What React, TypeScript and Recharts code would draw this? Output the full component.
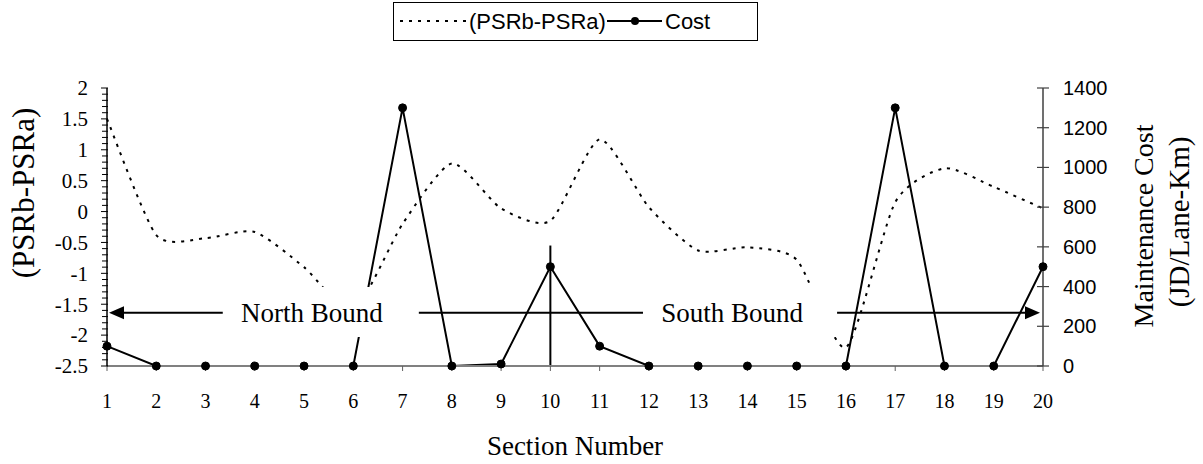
import React from 'react';
import {
  ComposedChart,
  Line,
  XAxis,
  YAxis,
  ReferenceArea,
  ReferenceLine,
  ReferenceDot,
} from 'recharts';

// ---- data ----
const sections = [1, 2, 3, 4, 5, 6, 7, 8, 9, 10, 11, 12, 13, 14, 15, 16, 17, 18, 19, 20];
const psrDiff = [1.5, -0.38, -0.43, -0.33, -0.9, -1.6, -0.2, 0.78, 0.05, -0.15, 1.17, 0.07, -0.63, -0.58, -0.78, -2.2, 0.15, 0.7, 0.4, 0.05];
const cost = [100, 0, 0, 0, 0, 0, 1300, 0, 10, 500, 100, 0, 0, 0, 0, 0, 1300, 0, 0, 500];

const leftMajorTicks = [-2.5, -2, -1.5, -1, -0.5, 0, 0.5, 1, 1.5, 2];
const rightTicks = [0, 200, 400, 600, 800, 1000, 1200, 1400];
const seriesNames = ['(PSRb-PSRa)', 'Cost'];
const directionLabels = ['North Bound', 'South Bound'];
const xTitle = 'Section Number';
const leftTitle = '(PSRb-PSRa)';
const rightTitleLines = ['Maintenance Cost', '(JD/Lane-Km)'];

// minor ticks every 0.1 on the left axis
const leftAllTicks: number[] = [];
for (let i = -25; i <= 20; i++) leftAllTicks.push(i / 10);

const data = sections.map((s, i) => ({ section: s, psr: psrDiff[i], cost: cost[i] }));

const SERIF = '"Liberation Serif", "Times New Roman", serif';
const SANS = '"Liberation Sans", Arial, sans-serif';

const LEFT_TICK_SIZE = 6;
const LEFT_TICK_MARGIN = 13;
const RIGHT_TICK_SIZE = 6;
const RIGHT_TICK_MARGIN = 14;
const SMOOTH_K = 0.11;

// smoothed line (cardinal spline)
function smoothCurve(context: any) {
  let pts: [number, number][] = [];
  return {
    areaStart() {},
    areaEnd() {},
    lineStart() {
      pts = [];
    },
    lineEnd() {
      const n = pts.length;
      if (n === 0) return;
      context.moveTo(pts[0][0], pts[0][1]);
      for (let i = 0; i < n - 1; i++) {
        const p0 = pts[i - 1] || pts[i];
        const p1 = pts[i];
        const p2 = pts[i + 1];
        const p3 = pts[i + 2] || pts[i + 1];
        context.bezierCurveTo(
          p1[0] + (p2[0] - p0[0]) * SMOOTH_K,
          p1[1] + (p2[1] - p0[1]) * SMOOTH_K,
          p2[0] - (p3[0] - p1[0]) * SMOOTH_K,
          p2[1] - (p3[1] - p1[1]) * SMOOTH_K,
          p2[0],
          p2[1]
        );
      }
    },
    point(x: number, y: number) {
      pts.push([+x, +y]);
    },
  };
}

const LeftTick = (props: any) => {
  const { x, y, payload } = props;
  const v = Math.round(payload.value * 10) / 10;
  const axisX = x + LEFT_TICK_SIZE + LEFT_TICK_MARGIN;
  const major = leftMajorTicks.includes(v);
  return (
    <g>
      <line x1={axisX - (major ? 6 : 5)} x2={axisX + 1} y1={y} y2={y} stroke="#000" strokeWidth={1} />
      {major && (
        <text x={x} y={y} dy="0.35em" textAnchor="end" fontFamily={SERIF} fontSize={21} fill="#000">
          {String(v)}
        </text>
      )}
    </g>
  );
};

const RightTick = (props: any) => {
  const { x, y, payload } = props;
  const axisX = x - RIGHT_TICK_SIZE - RIGHT_TICK_MARGIN;
  return (
    <g>
      <line x1={axisX - 6} x2={axisX + 6} y1={y} y2={y} stroke="#404040" strokeWidth={1.2} />
      <text x={x} y={y} dy="0.35em" textAnchor="start" fontFamily={SANS} fontSize={20} fill="#000">
        {String(payload.value)}
      </text>
    </g>
  );
};

const ArrowShape = (p: any) => {
  const { x1, y1, x2 } = p;
  const y = y1;
  const l = Math.min(x1, x2) + 2;
  const r = Math.max(x1, x2) - 3;
  return (
    <g>
      <line x1={l + 10} y1={y} x2={r - 10} y2={y} stroke="#000" strokeWidth={2} />
      <polygon points={`${l},${y} ${l + 15},${y - 6.5} ${l + 15},${y + 6.5}`} fill="#000" />
      <polygon points={`${r},${y} ${r - 15},${y - 6.5} ${r - 15},${y + 6.5}`} fill="#000" />
    </g>
  );
};

const labelStyle = { fontFamily: SERIF, fontSize: 27, fill: '#000' };

export default function App() {
  return (
    <div style={{ position: 'absolute', left: 0, top: 0, width: 1203, height: 464, background: '#fff' }}>
      <ComposedChart
        width={1203}
        height={464}
        data={data}
        margin={{ top: 88, right: 100, bottom: 58, left: 27 }}
      >
        <XAxis
          dataKey="section"
          type="number"
          domain={[1, 20]}
          ticks={sections}
          interval={0}
          height={40}
          axisLine={{ stroke: '#808080', strokeWidth: 2 }}
          tickLine={{ stroke: '#606060' }}
          tickSize={5}
          tickMargin={23}
          tick={{ fontFamily: SERIF, fontSize: 20, fill: '#000' }}
        />
        <YAxis
          yAxisId="left"
          domain={[-2.5, 2]}
          ticks={leftAllTicks}
          interval={0}
          width={80}
          axisLine={{ stroke: '#000', strokeWidth: 1.5 }}
          tickLine={false}
          tickSize={LEFT_TICK_SIZE}
          tickMargin={LEFT_TICK_MARGIN}
          tick={<LeftTick />}
          allowDataOverflow
        />
        <YAxis
          yAxisId="right"
          orientation="right"
          domain={[0, 1400]}
          ticks={rightTicks}
          interval={0}
          width={60}
          axisLine={{ stroke: '#404040', strokeWidth: 1.5 }}
          tickLine={false}
          tickSize={RIGHT_TICK_SIZE}
          tickMargin={RIGHT_TICK_MARGIN}
          tick={<RightTick />}
        />
        <Line
          yAxisId="left"
          dataKey="psr"
          name={seriesNames[0]}
          type={smoothCurve as any}
          stroke="#000"
          strokeWidth={2}
          strokeDasharray="3 6"
          dot={false}
          isAnimationActive={false}
        />
        <Line
          yAxisId="right"
          dataKey="cost"
          name={seriesNames[1]}
          type="linear"
          stroke="#000"
          strokeWidth={2}
          dot={{ r: 4, fill: '#000', stroke: '#000', strokeWidth: 1 }}
          isAnimationActive={false}
        />
        <ReferenceLine
          yAxisId="left"
          segment={[{ x: 1, y: -1.64 }, { x: 20, y: -1.64 }]}
          shape={<ArrowShape />}
          ifOverflow="visible"
        />
        <ReferenceArea
          yAxisId="left"
          x1={3.35}
          x2={7.33}
          y1={-2.03}
          y2={-1.22}
          fill="#fff"
          fillOpacity={1}
          stroke="none"
          ifOverflow="visible"
          {...({ zIndex: 1500 } as any)}
        />
        <ReferenceArea
          yAxisId="left"
          x1={11.88}
          x2={15.82}
          y1={-2.03}
          y2={-1.22}
          fill="#fff"
          fillOpacity={1}
          stroke="none"
          ifOverflow="visible"
          {...({ zIndex: 1500 } as any)}
        />
        <ReferenceDot
          yAxisId="left"
          x={5.16}
          y={-1.64}
          r={0}
          fill="none"
          stroke="none"
          label={{ value: directionLabels[0], position: 'center', ...labelStyle }}
          {...({ zIndex: 1600 } as any)}
        />
        <ReferenceDot
          yAxisId="left"
          x={13.69}
          y={-1.64}
          r={0}
          fill="none"
          stroke="none"
          label={{ value: directionLabels[1], position: 'center', ...labelStyle }}
          {...({ zIndex: 1600 } as any)}
        />
        <ReferenceLine
          yAxisId="left"
          segment={[{ x: 10, y: -2.5 }, { x: 10, y: -0.55 }]}
          stroke="#000"
          strokeWidth={2}
        />
      </ComposedChart>
      <svg
        width={1203}
        height={464}
        style={{ position: 'absolute', left: 0, top: 0, pointerEvents: 'none' }}
      >
        {/* legend */}
        <rect x={393.5} y={2.5} width={364} height={38} fill="#fff" stroke="#000" strokeWidth={1} />
        <line x1={400} y1={21} x2={468} y2={21} stroke="#000" strokeWidth={2} strokeDasharray="3 6" />
        <text x={469} y={29} fontFamily={SANS} fontSize={22} fill="#000">{seriesNames[0]}</text>
        <line x1={607} y1={21} x2={662} y2={21} stroke="#000" strokeWidth={2} />
        <circle cx={635} cy={21} r={4} fill="#000" />
        <text x={665} y={29} fontFamily={SANS} fontSize={22} fill="#000">{seriesNames[1]}</text>
        {/* axis titles */}
        <text x={575} y={455} textAnchor="middle" fontFamily={SERIF} fontSize={27} fill="#000">{xTitle}</text>
        <text transform="translate(34,193) rotate(-90)" textAnchor="middle" fontFamily={SERIF} fontSize={31} fill="#000">{leftTitle}</text>
        <text transform="translate(1153,226) rotate(-90)" textAnchor="middle" fontFamily={SERIF} fontSize={28} fill="#000">{rightTitleLines[0]}</text>
        <text transform="translate(1189,222) rotate(-90)" textAnchor="middle" fontFamily={SERIF} fontSize={29} fill="#000">{rightTitleLines[1]}</text>
      </svg>
    </div>
  );
}
